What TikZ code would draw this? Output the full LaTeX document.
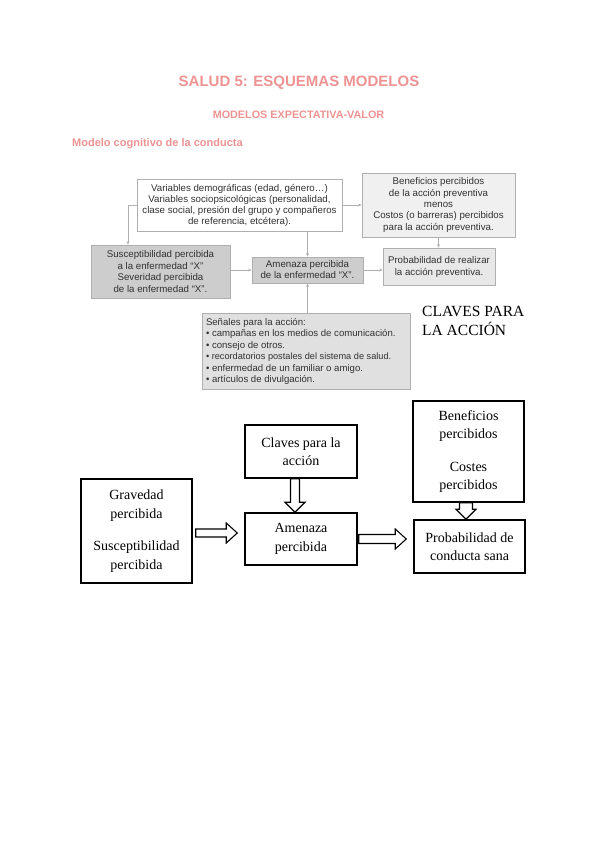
\documentclass[tikz,border=0pt]{standalone}
\usepackage{fontspec}
\setmainfont{Liberation Serif}
\newfontfamily\headfont{Liberation Sans}
\usetikzlibrary{calc,arrows.meta}
\definecolor{salmon}{RGB}{238,146,146}
\definecolor{rayita}{RGB}{175,175,175}
\definecolor{gristexto}{RGB}{50,50,50}
\definecolor{grisoscuro}{RGB}{205,205,205}
\definecolor{grismedio}{RGB}{224,224,224}
\definecolor{grisprob}{RGB}{232,232,232}
\definecolor{grisclaro}{RGB}{240,240,240}
\tikzset{
  caja/.style={draw=rayita, line width=0.7pt, inner sep=2pt, align=center, text=gristexto,
    font=\headfont\fontsize{9.7}{11}\selectfont},
  flechita/.style={draw=rayita, line width=0.6pt, -{Stealth[length=3.5pt,width=3pt]}},
  bloque/.style={draw=black, line width=1.5pt, align=center, font=\fontsize{14}{18.5}\selectfont},
  hueca/.style={draw=black, line width=1.1pt, line join=miter},
  titulo/.style={text=salmon, inner sep=0pt, font=\headfont\bfseries}
}
% flecha hueca horizontal: de #1 a #2, medio grosor #3
\newcommand{\flechaH}[3]{\draw[hueca] ($(#1)+(0,-#3)$) -- ($(#2)+(-11,-#3)$) -- ($(#2)+(-11,-10)$) -- (#2)
  -- ($(#2)+(-11,10)$) -- ($(#2)+(-11,#3)$) -- ($(#1)+(0,#3)$) -- cycle;}
% flecha hueca hacia abajo
\newcommand{\flechaV}[3]{\draw[hueca] ($(#1)+(-#3,0)$) -- ($(#2)+(-#3,-10)$) -- ($(#2)+(-10,-10)$) -- (#2)
  -- ($(#2)+(10,-10)$) -- ($(#2)+(#3,-10)$) -- ($(#1)+(#3,0)$) -- cycle;}
\begin{document}
\begin{tikzpicture}[x=1pt,y=-1pt]
  \useasboundingbox (0,0) rectangle (600,848);
  %titulos
  \node[titulo, anchor=base, font=\headfont\bfseries\fontsize{15}{18}\selectfont] (tit) at (299,87) {SALUD 5: ESQUEMAS MODELOS};
  \node[titulo, anchor=base, font=\headfont\bfseries\fontsize{10.8}{13}\selectfont] (subtit) at (298.5,118) {MODELOS EXPECTATIVA-VALOR};
  \node[titulo, anchor=base west, font=\headfont\bfseries\fontsize{11}{13}\selectfont] (apartado) at (72,146.5) {Modelo cognitivo de la conducta};
  %esquema de arriba
  \node[caja, fill=white, minimum width=205, minimum height=52] (vars) at (239.5,205)
    {Variables demográficas (edad, género…)\\Variables sociopsicológicas (personalidad,\\clase social, presión del grupo y compañeros\\de referencia, etcétera).};
  \node[caja, fill=grisclaro, minimum width=153, minimum height=64, font=\headfont\fontsize{9.7}{11.3}\selectfont] (benef) at (438.5,205)
    {Beneficios percibidos\\de la acción preventiva\\menos\\Costos (o barreras) percibidos\\para la acción preventiva.};
  \node[caja, fill=grisoscuro, minimum width=139, minimum height=53, font=\headfont\fontsize{9.7}{11.5}\selectfont] (suscep) at (160.5,271.5)
    {Susceptibilidad percibida\\a la enfermedad “X”\\Severidad percibida\\de la enfermedad “X”.};
  \node[caja, fill=grisoscuro, minimum width=111, minimum height=26] (amen) at (307.5,270)
    {Amenaza percibida\\de la enfermedad “X”.};
  \node[caja, fill=grisprob, minimum width=112, minimum height=37, font=\headfont\fontsize{9.7}{12}\selectfont] (prob) at (439,266.5)
    {Probabilidad de realizar\\la acción preventiva.};
  \node[caja, fill=grismedio, inner sep=0pt, align=left, font=\headfont\fontsize{9.6}{11.5}\selectfont] (senal) at (306,351)
    {\parbox[c][76pt][t]{208pt}{\leftskip=4pt\vspace*{5pt}Señales para la acción:\\
      • campañas en los medios de comunicación.\\
      • consejo de otros.\\
      {\fontsize{9.2}{11.5}\selectfont • recordatorios postales del sistema de salud.}\\
      • enfermedad de un familiar o amigo.\\
      • artículos de divulgación.}};
  \node[anchor=north west, align=left, inner sep=0pt, font=\fontsize{15.5}{18.5}\selectfont] (claveslbl) at (422,306.5) {CLAVES PARA\\LA ACCIÓN};
  %flechas de arriba
  \draw[flechita] (vars.west) -| ([xshift=-32.5]suscep.north);
  \draw[flechita] (vars.east) -- (vars.east -| benef.west);
  \draw[flechita] (amen.north |- vars.south) -- (amen.north);
  \draw[flechita] (suscep.east |- amen.west) -- (amen.west);
  \draw[flechita] (amen.east) -- (amen.east -| prob.west);
  \draw[flechita] (benef.south) -- (benef.south |- prob.north);
  \draw[flechita] (amen.south |- senal.north) -- (amen.south);
  %esquema de abajo
  \node[bloque, minimum width=111, minimum height=104] (grav) at (136.5,531) {Gravedad\\percibida\\[14pt]Susceptibilidad\\percibida};
  \node[bloque, minimum width=112, minimum height=53] (claves) at (301,451.5) {Claves para la\\acción};
  \node[bloque, minimum width=112, minimum height=52] (amenb) at (301,539) {Amenaza\\percibida};
  \node[bloque, minimum width=111, minimum height=101] (benefb) at (468.5,451.5) {Beneficios\\percibidos\\[14pt]Costes\\percibidos};
  \node[bloque, minimum width=111, minimum height=53] (probb) at (469.5,546.5) {Probabilidad de\\conducta sana};
  %flechas huecas
  \coordinate (g0) at ($(grav.east)+(3,2)$);
  \coordinate (g1) at ($(amenb.west |- g0)+(-7,0)$);
  \flechaH{g0}{g1}{4}
  \coordinate (c0) at ($(claves.south)+(-6,0)$);
  \coordinate (c1) at (c0 |- amenb.north);
  \flechaV{c0}{c1}{4.5}
  \coordinate (a0) at ($(amenb.east)+(1,0)$);
  \coordinate (a1) at ($(a0 -| probb.west)+(-7,0)$);
  \flechaH{a0}{a1}{4.5}
  \coordinate (b0) at ($(benefb.south)+(-2.5,0)$);
  \coordinate (b1) at (b0 |- probb.north);
  \flechaV{b0}{b1}{6.5}
\end{tikzpicture}
\end{document}
